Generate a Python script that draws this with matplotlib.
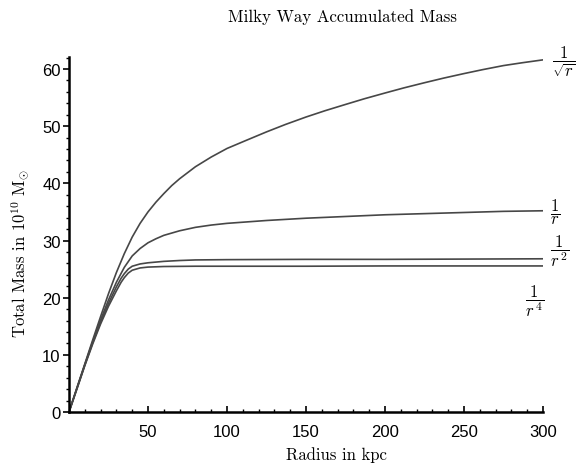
import matplotlib
matplotlib.use("Agg")
import matplotlib.pyplot as plt
from matplotlib.ticker import MultipleLocator, FixedLocator

plt.rcParams['mathtext.fontset'] = 'cm'

# Radius (kpc) and accumulated mass (1e10 Msun)
r_sqrt = [0, 5, 10, 15, 20, 25, 30, 35, 40, 45, 50, 55, 60, 65, 70, 80, 90, 100,
          112, 125, 137, 150, 162, 175, 187, 200, 212, 225, 237, 250, 262, 275, 287, 300]
m_sqrt = [0, 4.2, 8.4, 12.6, 16.7, 20.7, 24.4, 27.7, 30.6, 33.0, 35.0, 36.7, 38.2, 39.6, 40.8, 42.9, 44.6, 46.1,
          47.5, 49.0, 50.3, 51.6, 52.7, 53.8, 54.8, 55.8, 56.7, 57.6, 58.4, 59.2, 59.9, 60.6, 61.1, 61.6]

r_inv1 = [0, 5, 10, 15, 20, 25, 30, 35, 40, 45, 50, 55, 60, 70, 80, 90, 100,
          125, 150, 175, 200, 225, 250, 275, 300]
m_inv1 = [0, 4.2, 8.3, 12.3, 16.1, 19.6, 22.7, 25.3, 27.3, 28.6, 29.6, 30.3, 30.9, 31.7, 32.3, 32.7, 33.0,
          33.5, 33.9, 34.2, 34.5, 34.7, 34.9, 35.1, 35.2]

r_inv2 = [0, 5, 10, 15, 20, 25, 30, 33, 35, 37.5, 40, 45, 50, 60, 70, 80, 100, 150, 200, 250, 300]
m_inv2 = [0, 4.1, 8.2, 12.1, 15.7, 19.0, 21.9, 23.4, 24.2, 25.0, 25.5, 25.9, 26.1, 26.35, 26.5, 26.6, 26.65, 26.7, 26.7, 26.75, 26.8]

r_inv4 = [0, 5, 10, 15, 20, 25, 30, 33, 35, 37.5, 40, 45, 50, 60, 80, 100, 150, 200, 250, 300]
m_inv4 = [0, 4.0, 8.1, 11.9, 15.4, 18.5, 21.2, 22.7, 23.5, 24.3, 24.8, 25.2, 25.35, 25.45, 25.5, 25.5, 25.5, 25.55, 25.55, 25.55]

x_ticks = [50, 100, 150, 200, 250, 300]
y_ticks = [0, 10, 20, 30, 40, 50, 60]

W, H = 576, 464
fig = plt.figure(figsize=(W / 100, H / 100), dpi=100)
ax = fig.add_axes([69 / W, 1 - 413 / H, (543 - 69) / W, (413 - 58) / H])

col = '#474747'
for rr, mm in [(r_sqrt, m_sqrt), (r_inv1, m_inv1), (r_inv2, m_inv2), (r_inv4, m_inv4)]:
    ax.plot(rr, mm, color=col, lw=1.2, solid_joinstyle='round')

ax.set_xlim(0, 300)
ax.set_ylim(0, 62.1)
for s in ['top', 'right']:
    ax.spines[s].set_visible(False)
for s in ['left', 'bottom']:
    ax.spines[s].set_linewidth(1.8)
    ax.spines[s].set_color('black')

ax.xaxis.set_major_locator(FixedLocator(x_ticks))
ax.xaxis.set_minor_locator(MultipleLocator(10))
ax.yaxis.set_major_locator(FixedLocator(y_ticks))
ax.yaxis.set_minor_locator(MultipleLocator(2))
ax.tick_params(axis='x', which='both', direction='in', pad=9)
ax.tick_params(axis='y', which='both', direction='out', pad=2)
ax.tick_params(which='major', length=4, width=1.2)
ax.tick_params(which='minor', length=2.5, width=1)
for lab in ax.get_xticklabels() + ax.get_yticklabels():
    lab.set_fontfamily('Liberation Sans')
    lab.set_fontsize(12)

fig.text(343 / W, 1 - 17 / H, 'Milky Way Accumulated Mass', family='cmr10', fontsize=12.2,
         ha='center', va='center')
fig.text(336 / W, 1 - 455 / H, 'Radius in kpc', family='cmr10', fontsize=12,
         ha='center', va='center')
fig.text(20 / W, 1 - 253 / H, r'Total Mass in $10^{10}$ $\mathrm{M}_{\odot}$', family='cmr10',
         fontsize=12, ha='center', va='center', rotation=90)

lab_kw = dict(fontsize=12, ha='center', va='center', transform=fig.transFigure)
fig.text(564 / W, 1 - 62 / H, r'$\dfrac{1}{\sqrt{r}}$', **lab_kw)
fig.text(555 / W, 1 - 212 / H, r'$\dfrac{1}{r}$', **lab_kw)
fig.text(560 / W, 1 - 251 / H, r'$\dfrac{1}{r^{\,2}}$', **lab_kw)
fig.text(535 / W, 1 - 301 / H, r'$\dfrac{1}{r^{\,4}}$', **lab_kw)

fig.savefig('out.png', dpi=100)
